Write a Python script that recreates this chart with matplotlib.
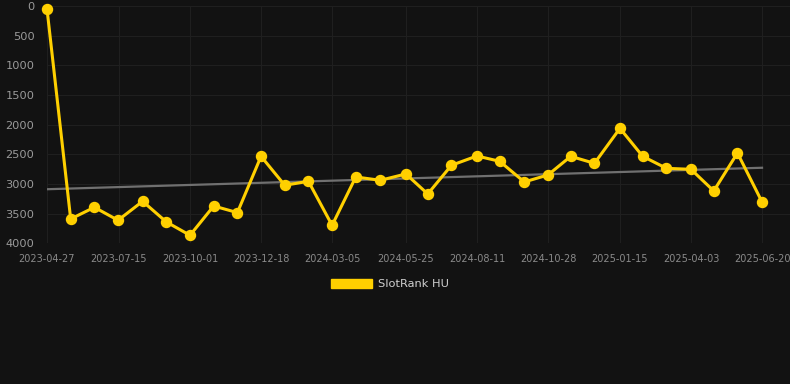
import matplotlib
matplotlib.use("Agg")
import matplotlib.pyplot as plt
import matplotlib.dates as mdates
from matplotlib.patches import Patch
import numpy as np
import pandas as pd

dates = ["2023-04-27", "2023-05-23", "2023-06-18", "2023-07-14", "2023-08-10",
         "2023-09-05", "2023-10-01", "2023-10-27", "2023-11-22", "2023-12-18",
         "2024-01-13", "2024-02-08", "2024-03-05", "2024-03-31", "2024-04-27",
         "2024-05-25", "2024-06-18", "2024-07-14", "2024-08-11", "2024-09-05",
         "2024-10-02", "2024-10-28", "2024-11-22", "2024-12-18", "2025-01-15",
         "2025-02-09", "2025-03-07", "2025-04-03", "2025-04-28", "2025-05-24",
         "2025-06-20"]
ranks = [50, 3590, 3393, 3612, 3292, 3640, 3865, 3371, 3483, 2534,
         3022, 2955, 3697, 2882, 2938, 2831, 3169, 2685, 2528, 2618,
         2966, 2848, 2534, 2652, 2062, 2534, 2736, 2753, 3118, 2478,
         3303]
tick_labels = ["2023-04-27", "2023-07-15", "2023-10-01", "2023-12-18", "2024-03-05",
               "2024-05-25", "2024-08-11", "2024-10-28", "2025-01-15", "2025-04-03",
               "2025-06-20"]
y_ticks = [0, 500, 1000, 1500, 2000, 2500, 3000, 3500, 4000]
series_name = "SlotRank HU"

BG = "#121212"
GOLD = "#FFD000"
GRID = "#1f1f1f"
TXT = "#8a8a8a"

x = pd.to_datetime(dates)
xn = mdates.date2num(x)
coef = np.polyfit(xn, np.array(ranks, dtype=float), 1)
trend = np.polyval(coef, xn[[0, -1]])

fig = plt.figure(figsize=(7.9, 3.84), dpi=100, facecolor=BG)
ax = fig.add_axes([47/790, 1 - 243.3/384, (790-47)/790, (243.3-6)/384])
ax.set_facecolor(BG)

ax.plot(x[[0, -1]], trend, color="#707070", lw=1.6, zorder=2)
ax.plot(x, ranks, color=GOLD, lw=2.2, marker="o", markersize=7.2, zorder=3,
        clip_on=False)

ax.set_ylim(4000, 0)
ax.set_yticks(y_ticks)
ax.set_yticklabels([str(v) for v in y_ticks])
tdates = pd.to_datetime(tick_labels)
ax.set_xticks(tdates)
ax.set_xticklabels(tick_labels)
ax.set_xlim(x[0], x[-1] + pd.Timedelta(days=30.7))

ax.grid(True, color=GRID, lw=0.8)
ax.set_axisbelow(True)
for s in ax.spines.values():
    s.set_visible(False)
ax.tick_params(axis="y", colors=TXT, labelsize=8.2, length=0, pad=9)
ax.tick_params(axis="x", colors=TXT, labelsize=7, length=0, pad=8)
for lbl in ax.get_yticklabels():
    lbl.set_color("#9a9a9a")

handles = [Patch(facecolor=GOLD, edgecolor=GOLD)]
fig.legend(handles, [series_name], loc="center", bbox_to_anchor=(390/790, 1 - 284/384),
           frameon=False, handlelength=3.6, handleheight=0.9, fontsize=8.2,
           labelcolor="#d0d0d0", handletextpad=0.5)

fig.savefig("out.png", dpi=100, facecolor=BG)
